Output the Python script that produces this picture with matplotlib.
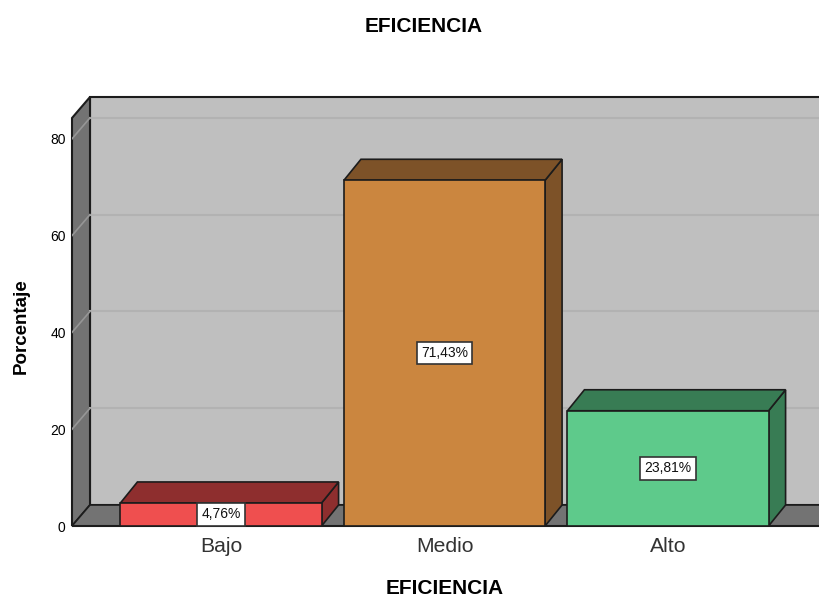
import matplotlib
matplotlib.use('Agg')
import matplotlib.pyplot as plt
from matplotlib.patches import Polygon, Rectangle

categories = ['Bajo', 'Medio', 'Alto']
values = [4.76, 71.43, 23.81]
labels = ['4,76%', '71,43%', '23,81%']
front_colors = ['#EF4F4F', '#CB863F', '#5ECA8B']
dark_colors = ['#8E2E2E', '#7D5228', '#387C54']
yticks = [0, 20, 40, 60, 80]

plt.rcParams['font.family'] = ['Liberation Sans', 'DejaVu Sans']
W, H = 820, 598
fig = plt.figure(figsize=(W/100, H/100), dpi=100)
px_y0, px_top = 526, 97
ax = fig.add_axes([72/W, 1-px_y0/H, (W-72)/W, (px_y0-px_top)/H])
sx, sy = 223.5, 4.84
ax.set_xlim(-149/sx, (820-221)/sx)
ax.set_ylim(0, (px_y0-px_top)/sy)
for s in ax.spines.values():
    s.set_visible(False)
ax.patch.set_visible(False)

EDGE = '#1c1c1c'
dx, dy = 18/sx, 21/sy
xl, xr = ax.get_xlim()
ytop = ax.get_ylim()[1]
ywall = ytop - dy

# walls
ax.add_patch(Polygon([(xl+dx, dy), (xr+0.1, dy), (xr+0.1, ytop), (xl+dx, ytop)], closed=True,
                     fc='#BFBFBF', ec=EDGE, lw=1.5, clip_on=False, zorder=1))
ax.add_patch(Polygon([(xl, 0), (xl+dx, dy), (xl+dx, ytop), (xl, ywall)], closed=True,
                     fc='#737373', ec=EDGE, lw=1.5, clip_on=False, zorder=2))
ax.add_patch(Polygon([(xl, 0), (xr+0.1, 0), (xr+0.1, dy), (xl+dx, dy)], closed=True,
                     fc='#737373', ec=EDGE, lw=1.2, clip_on=True, zorder=2))
for v in yticks[1:]:
    ax.plot([xl+dx, xr], [v+dy, v+dy], color='#B2B2B2', lw=1.5, zorder=3)
    ax.plot([xl, xl+dx], [v, v+dy], color='#969696', lw=1.2, zorder=3)
ax.plot([xl, xr], [0, 0], color=EDGE, lw=1.5, zorder=4, clip_on=False, solid_capstyle='butt')

# bars
w = 0.9
bdx, bdy = 17/sx, 21/sy
for i, (v, fc, dc, lab) in enumerate(zip(values, front_colors, dark_colors, labels)):
    l, r = i-w/2, i+w/2
    z = 5 + i
    ax.add_patch(Polygon([(r, 0), (r+bdx, bdy), (r+bdx, v+bdy), (r, v)], closed=True, fc=dc, ec=EDGE, lw=1.2, zorder=z))
    ax.add_patch(Polygon([(l, v), (l+bdx, v+bdy), (r+bdx, v+bdy), (r, v)], closed=True, fc=dc, ec=EDGE, lw=1.2, zorder=z))
    ax.add_patch(Rectangle((l, 0), w, v, fc=fc, ec=EDGE, lw=1.2, zorder=z+0.1))
    ax.text(i, v/2, lab, ha='center', va='center', fontsize=10, color='#111111', zorder=20,
            bbox=dict(boxstyle='square,pad=0.3', fc='white', ec='#333333', lw=1.2))

ax.set_xticks(range(len(categories)))
ax.set_xticklabels(categories, fontsize=15.2, color='#333333')
ax.tick_params(axis='x', length=0, pad=8)
ax.set_yticks(yticks)
ax.tick_params(axis='y', length=0, labelsize=10, pad=4.5)
ax.set_xlabel('EFICIENCIA', fontsize=15, fontweight='bold')
ax.xaxis.set_label_coords((445-72)/(W-72), -(589-526)/(px_y0-px_top), transform=ax.transAxes)
ax.xaxis.label.set_va('center')
fig.text(424/W, 1-26/H, 'EFICIENCIA', ha='center', va='center', fontsize=15, fontweight='bold')
fig.text(21/W, 1-326/H, 'Porcentaje', ha='center', va='center', rotation=90, fontsize=13.5, fontweight='bold')
fig.savefig('out.png', dpi=100)
